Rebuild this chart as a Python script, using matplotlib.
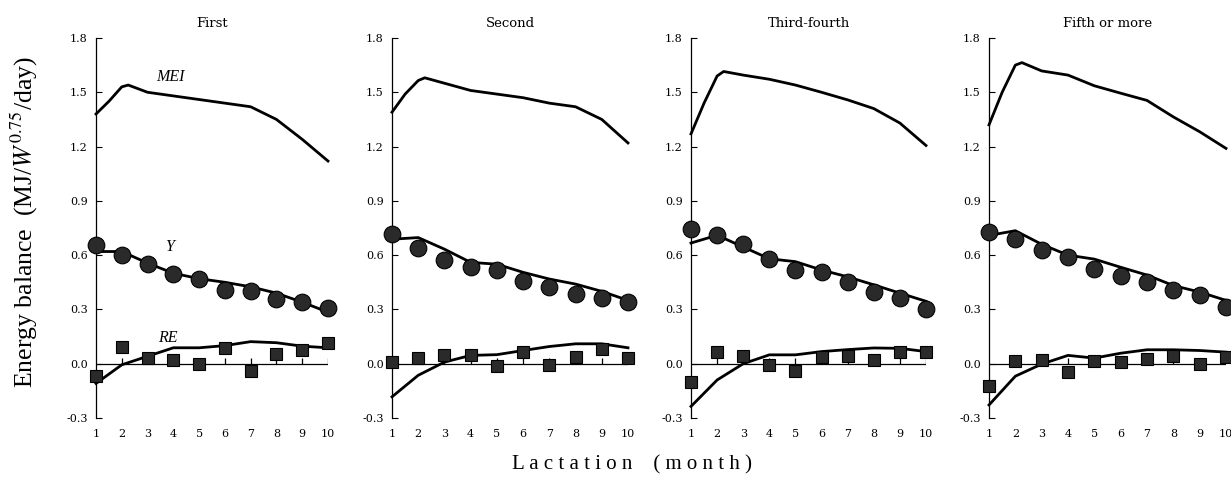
import matplotlib
matplotlib.use("Agg")
import matplotlib.pyplot as plt

# ---------------- data ----------------
months = [1, 2, 3, 4, 5, 6, 7, 8, 9, 10]
mei_x = [1, 1.5, 2, 2.25, 3, 4, 5, 6, 7, 8, 9, 10]
panel_titles = ["First", "Second", "Third-fourth", "Fifth or more"]
yticks = [-0.3, 0.0, 0.3, 0.6, 0.9, 1.2, 1.5, 1.8]

mei_first = [1.38, 1.45, 1.53, 1.54, 1.50, 1.48, 1.46, 1.44, 1.42, 1.35, 1.24, 1.12]
mei_second = [1.39, 1.49, 1.565, 1.58, 1.55, 1.51, 1.49, 1.47, 1.44, 1.42, 1.35, 1.22]
mei_third = [1.27, 1.44, 1.59, 1.615, 1.595, 1.572, 1.54, 1.50, 1.458, 1.41, 1.33, 1.206]
mei_fifth = [1.32, 1.50, 1.65, 1.664, 1.618, 1.595, 1.536, 1.495, 1.455, 1.364, 1.282, 1.19]

y_obs_first = [0.654, 0.60, 0.55, 0.494, 0.466, 0.406, 0.40, 0.36, 0.34, 0.31]
y_obs_second = [0.716, 0.642, 0.574, 0.532, 0.517, 0.459, 0.422, 0.385, 0.361, 0.343]
y_obs_third = [0.745, 0.71, 0.66, 0.576, 0.518, 0.509, 0.449, 0.395, 0.364, 0.30]
y_obs_fifth = [0.727, 0.688, 0.63, 0.588, 0.524, 0.482, 0.454, 0.405, 0.378, 0.314]

y_fit_first = [0.62, 0.62, 0.556, 0.50, 0.47, 0.45, 0.425, 0.39, 0.34, 0.285]
y_fit_second = [0.688, 0.697, 0.633, 0.56, 0.55, 0.505, 0.468, 0.44, 0.40, 0.35]
y_fit_third = [0.667, 0.71, 0.645, 0.58, 0.564, 0.518, 0.48, 0.436, 0.39, 0.345]
y_fit_fifth = [0.709, 0.735, 0.66, 0.60, 0.578, 0.533, 0.49, 0.432, 0.396, 0.35]

re_obs_first = [-0.066, 0.094, 0.032, 0.019, -0.002, 0.088, -0.04, 0.054, 0.075, 0.112]
re_obs_second = [0.009, 0.031, 0.05, 0.046, -0.015, 0.064, -0.009, 0.037, 0.083, 0.031]
re_obs_third = [-0.10, 0.067, 0.045, -0.005, -0.042, 0.036, 0.045, 0.022, 0.067, 0.064]
re_obs_fifth = [-0.124, 0.013, 0.022, -0.046, 0.013, 0.009, 0.026, 0.04, -0.002, 0.036]

re_fit_first = [-0.109, -0.006, 0.041, 0.088, 0.088, 0.10, 0.122, 0.116, 0.097, 0.088]
re_fit_second = [-0.183, -0.064, 0.009, 0.046, 0.05, 0.073, 0.095, 0.11, 0.11, 0.088]
re_fit_third = [-0.236, -0.09, 0.0, 0.049, 0.049, 0.067, 0.078, 0.087, 0.085, 0.067]
re_fit_fifth = [-0.228, -0.069, -0.002, 0.046, 0.031, 0.058, 0.077, 0.077, 0.073, 0.064]

mei_all = [mei_first, mei_second, mei_third, mei_fifth]
yobs_all = [y_obs_first, y_obs_second, y_obs_third, y_obs_fifth]
yfit_all = [y_fit_first, y_fit_second, y_fit_third, y_fit_fifth]
reobs_all = [re_obs_first, re_obs_second, re_obs_third, re_obs_fifth]
refit_all = [re_fit_first, re_fit_second, re_fit_third, re_fit_fifth]

# ---------------- figure ----------------
plt.rcParams["mathtext.fontset"] = "stix"
fig = plt.figure(figsize=(12.31, 4.86), dpi=100)

lefts = [96, 392, 691, 989]
widths = [232, 236, 235, 237]
W, H = 1231, 486
bottom = 1 - 418 / H
height = (418 - 38) / H

tick_font = dict(family="DejaVu Serif", size=8)

for i in range(4):
    ax = fig.add_axes([lefts[i] / W, bottom, widths[i] / W, height])
    ax.set_xlim(1, 10)
    ax.set_ylim(-0.3, 1.8)
    for s in ["top", "right", "bottom"]:
        ax.spines[s].set_visible(False)
    ax.spines["left"].set_linewidth(0.9)
    ax.set_yticks(yticks)
    ax.set_yticklabels([f"{t:.1f}" for t in yticks], fontdict=tick_font)
    ax.tick_params(axis="y", direction="in", length=4, width=0.8, pad=6)
    ax.set_xticks(months)
    ax.set_xticklabels([str(m) for m in months], fontdict=tick_font)
    ax.tick_params(axis="x", length=0, pad=8)

    # zero line with small upward ticks
    ax.axhline(0, color="black", lw=0.9, zorder=1)
    ax.vlines(months[1:], 0, 0.03, color="black", lw=0.9, zorder=1)

    # fitted curves
    ax.plot(mei_x, mei_all[i], color="black", lw=2.0, solid_joinstyle="round",
            clip_on=False, zorder=3)
    ax.plot(months, yfit_all[i], color="black", lw=2.0, solid_joinstyle="round",
            clip_on=False, zorder=3)
    ax.plot(months, refit_all[i], color="black", lw=2.0, solid_joinstyle="round",
            clip_on=False, zorder=3)

    # observed points
    ax.plot(months, yobs_all[i], linestyle="none", marker="o", markersize=12,
            markerfacecolor="#2a2a2a", markeredgecolor="black", markeredgewidth=0.8,
            clip_on=False, zorder=4)
    ax.plot(months, reobs_all[i], linestyle="none", marker="s", markersize=8.5,
            markerfacecolor="#2a2a2a", markeredgecolor="black", markeredgewidth=0.8,
            clip_on=False, zorder=4)

    ax.set_title(panel_titles[i], fontsize=9.5, family="DejaVu Serif", pad=8)

    if i == 0:
        ax.text(3.9, 1.585, "MEI", fontsize=11.5, style="italic",
                family="Liberation Serif", ha="center", va="center")
        ax.text(3.87, 0.645, "Y", fontsize=11.5, style="italic",
                family="Liberation Serif", ha="center", va="center")
        ax.text(3.8, 0.14, "RE", fontsize=11.5, style="italic",
                family="Liberation Serif", ha="center", va="center")

fig.text(0.020, 1 - 222 / H,
         r"Energy balance  (MJ/$\mathit{W}^{0.75}$/day)",
         rotation=90, ha="center", va="center", fontsize=18.5,
         family="Liberation Serif")
fig.text(0.513, 1 - 465 / H, "L a c t a t i o n    ( m o n t h )",
         ha="center", va="center", fontsize=15, family="Liberation Serif")

fig.savefig("out.png", dpi=100)
